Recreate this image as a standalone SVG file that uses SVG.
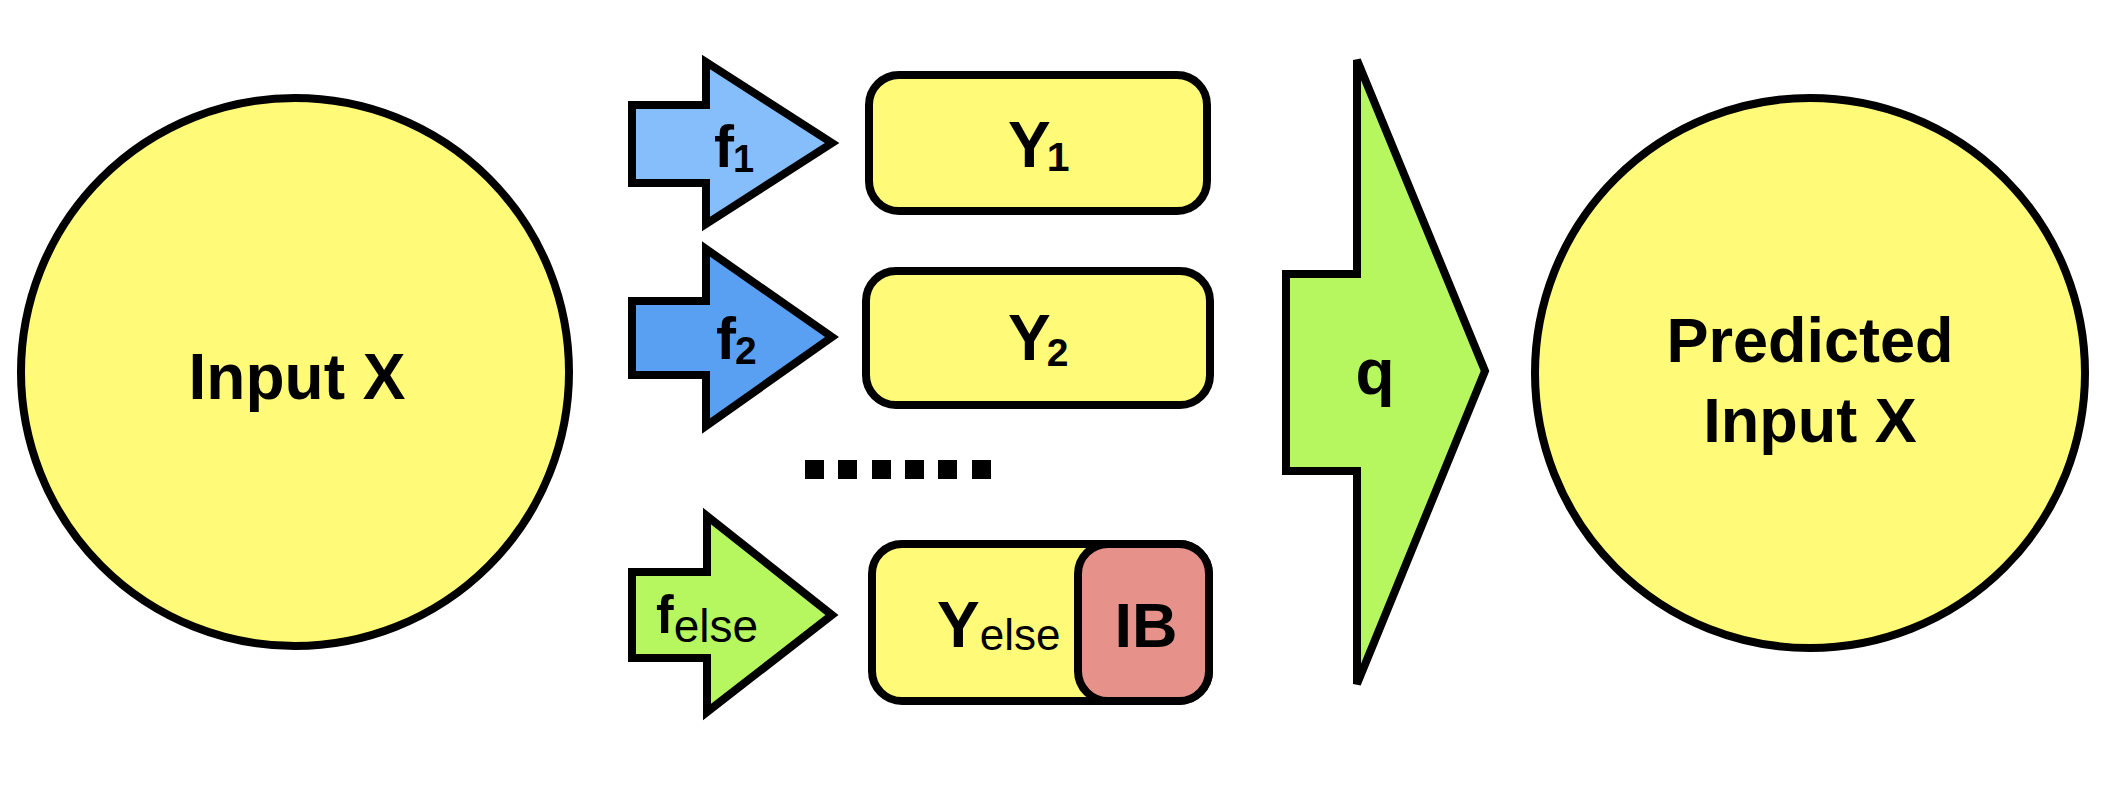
<svg xmlns="http://www.w3.org/2000/svg" width="2110" height="786" viewBox="0 0 2110 786">
<style>
.s{stroke:#000;stroke-width:8;stroke-linejoin:miter}
.y{fill:#FFFA78}
.t{font-family:"Liberation Sans",Arial,sans-serif;font-weight:bold;fill:#000}
.r{font-weight:normal}
</style>
<rect width="2110" height="786" fill="#fff"/>
<g id="input">
<circle class="s y" cx="295" cy="372" r="274"/>
<text class="t" x="297" y="399" font-size="64" text-anchor="middle">Input X</text>
</g>
<g id="connectors">
<g id="f1">
<path class="s" fill="#85BEFA" d="M632,105 H706 V62 L832,143 L706,224 V183 H632 Z"/>
<text class="t" x="714" y="167" font-size="60">f<tspan font-size="38" dy="5" dx="-1">1</tspan></text>
</g>
<g id="f2">
<path class="s" fill="#5AA0F2" d="M632,301 H706 V249 L832,337 L706,426 V375 H632 Z"/>
<text class="t" x="716" y="359" font-size="60">f<tspan font-size="39" dy="5" dx="-1">2</tspan></text>
</g>
<g id="felse">
<path class="s" fill="#B6F760" d="M632,572 H707 V516 L832,615 L707,712 V658 H632 Z"/>
<text class="t" x="656" y="633" font-size="53">f<tspan class="r" font-size="46" dy="9">else</tspan></text>
</g>
<g id="q">
<path class="s" fill="#B6F760" d="M1286,274 H1357 V60 L1485,371 L1357,684 V471 H1286 Z"/>
<text class="t" x="1375" y="394" font-size="64" text-anchor="middle">q</text>
</g>
</g>
<g id="y1">
<rect class="s y" x="869" y="75" width="338" height="136" rx="30"/>
<text class="t" x="1008" y="167" font-size="64">Y<tspan font-size="41" dy="4" dx="-4">1</tspan></text>
</g>
<g id="y2">
<rect class="s y" x="866" y="271" width="344" height="134" rx="30"/>
<text class="t" x="1008" y="360" font-size="64">Y<tspan font-size="39" dy="6" dx="-4">2</tspan></text>
</g>
<g id="dots" fill="#000">
<rect x="805" y="460" width="19" height="19"/>
<rect x="838" y="460" width="19" height="19"/>
<rect x="872" y="460" width="19" height="19"/>
<rect x="905" y="460" width="19" height="19"/>
<rect x="938" y="460" width="19" height="19"/>
<rect x="972" y="460" width="19" height="19"/>
</g>
<g id="yelse">
<rect class="s y" x="872" y="544" width="337" height="157" rx="30"/>
<text class="t" x="937" y="647" font-size="64">Y<tspan class="r" font-size="44" dy="3">else</tspan></text>
</g>
<g id="ib">
<rect class="s" fill="#E6928B" x="1078" y="544" width="131" height="157" rx="30"/>
<text class="t" x="1146" y="647" font-size="63" text-anchor="middle">IB</text>
</g>
<g id="predicted">
<circle class="s y" cx="1810" cy="373" r="275"/>
<text class="t" x="1810" y="362" font-size="63" text-anchor="middle">Predicted</text>
<text class="t" x="1810" y="442" font-size="63" text-anchor="middle">Input X</text>
</g>
</svg>
